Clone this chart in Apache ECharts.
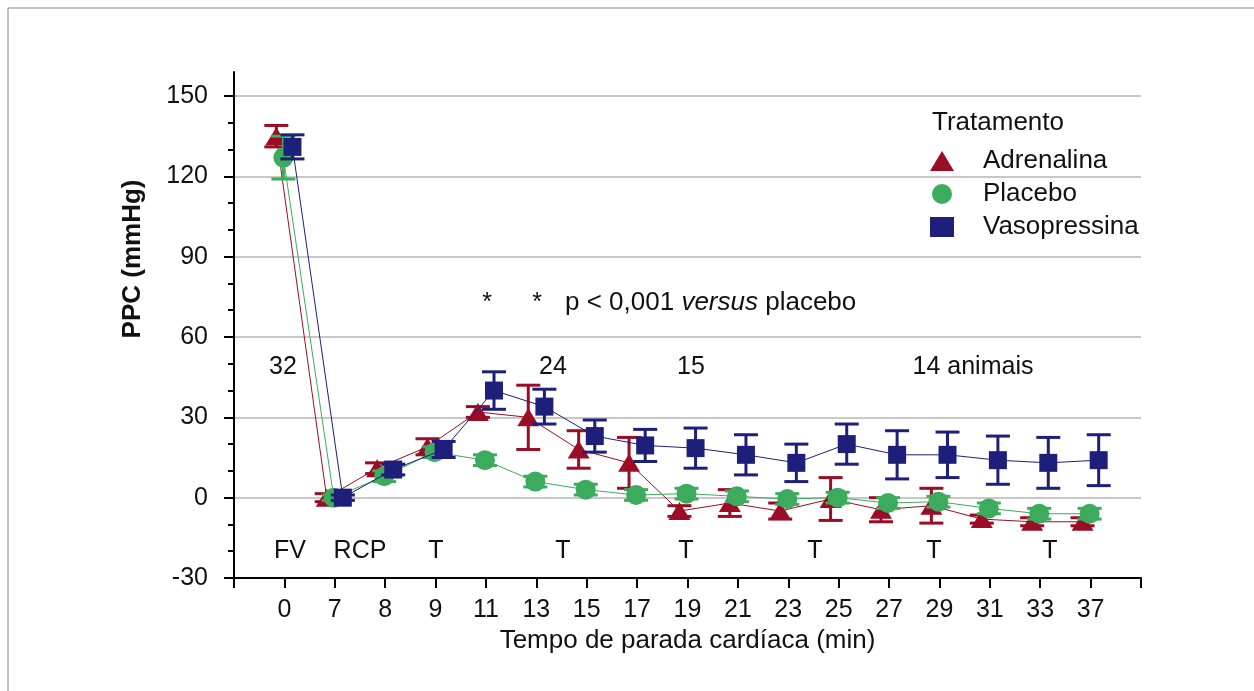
<!DOCTYPE html>
<html>
<head>
<meta charset="utf-8">
<script src="https://cdn.jsdelivr.net/npm/echarts@6/dist/echarts.min.js"></script>
<style>
  html, body { margin: 0; padding: 0; background: #fff; }
  #main { width: 1254px; height: 691px; }
</style>
</head>
<body>
<div id="main"></div>
<script>
// tempo de parada cardíaca (min)
const categories = ['0', '7', '8', '9', '11', '13', '15', '17', '19', '21', '23', '25', '27', '29', '31', '33', '37'];
const yTicks = [-30, 0, 30, 60, 90, 120, 150];

// PPC (mmHg), média e erro
const adrenalina = [135, 0, 11, 19, 32, 30, 18, 13, -5, -2, -5, -0.5, -4.5, -3, -8, -9, -9];
const adrenalinaErr = [4, 1.5, 2, 3, 2, 12, 7, 9.5, 2, 5, 3, 8, 4.5, 6.5, 1.5, 1.5, 1.5];
const placebo = [127, 0, 8, 17, 14, 6, 3, 1, 1.5, 0.5, -0.5, 0, -2, -1.5, -4, -6, -6];
const placeboErr = [8, 1, 2, 2, 2, 2, 2, 2, 2, 2, 2, 2, 2, 2, 2, 2, 2];
const vasopressina = [131, 0, 10.5, 18, 40, 34, 23, 19.5, 18.5, 16, 13, 20, 16, 16, 14, 13, 14];
const vasopressinaErr = [4.5, 1, 2, 3, 7, 6.5, 6, 6, 7.5, 7.5, 7, 7.5, 9, 8.5, 9, 9.5, 9.5];

const RED = '#9b0c26';
const GREEN = '#3dab5e';
const NAVY = '#1e1f7a';
const FONT = 'Liberation Sans, Arial, sans-serif';

let chart = echarts.init(document.getElementById('main'));

// pequeno deslocamento horizontal entre os grupos
const shift = { Adrenalina: -0.16, Placebo: -0.02, Vasopressina: 0.16 };

function points(name, vals) {
  return vals.map((v, i) => [i + shift[name], v]);
}
function bars(name, vals, errs) {
  return vals.map((v, i) => [i + shift[name], v - errs[i], v + errs[i]]);
}
function errorBar(color) {
  return function (params, api) {
    let x = api.value(0);
    let lo = api.coord([x, api.value(1)]);
    let hi = api.coord([x, api.value(2)]);
    let style = { stroke: color, lineWidth: 3 };
    let half = 12;
    return {
      type: 'group',
      children: [
        { type: 'line', shape: { x1: hi[0], y1: hi[1], x2: lo[0], y2: lo[1] }, style: style },
        { type: 'line', shape: { x1: hi[0] - half, y1: hi[1], x2: hi[0] + half, y2: hi[1] }, style: style },
        { type: 'line', shape: { x1: lo[0] - half, y1: lo[1], x2: lo[0] + half, y2: lo[1] }, style: style }
      ]
    };
  };
}

function group(name, vals, errs, color, symbol, size, z) {
  return [
    {
      name: name + ' erro',
      type: 'custom',
      renderItem: errorBar(color),
      data: bars(name, vals, errs),
      encode: { x: 0, y: [1, 2] },
      z: z,
      silent: true
    },
    {
      name: name,
      type: 'line',
      data: points(name, vals),
      symbol: symbol,
      symbolSize: size,
      symbolKeepAspect: symbol === 'rect',
      showAllSymbol: true,
      itemStyle: { color: color },
      lineStyle: { color: color, width: 1 },
      z: z + 1
    }
  ];
}

const txt = (text, x, y, extra) => ({
  type: 'text',
  x: x, y: y,
  style: Object.assign({ text: text, font: '25px ' + FONT, fill: '#111', align: 'center', verticalAlign: 'middle' }, extra || {})
});

let option = {
  animation: false,
  backgroundColor: '#fff',
  grid: [
    { left: 234, right: 113, top: 96, bottom: 113, outerBoundsMode: 'none' },
    { left: 234, right: 113, top: 72, bottom: 113, outerBoundsMode: 'none' }
  ],
  legend: {
    orient: 'vertical',
    left: 930,
    top: 148,
    padding: 0,
    itemWidth: 24,
    itemHeight: 20,
    itemGap: 7,
    data: [
      { name: 'Adrenalina', icon: 'triangle' },
      { name: 'Placebo', icon: 'circle' },
      { name: 'Vasopressina', icon: 'rect' }
    ],
    textStyle: { fontFamily: FONT, fontSize: 26, color: '#111', padding: [0, 0, 0, 24] }
  },
  xAxis: [
    {
      type: 'value',
      min: -1,
      max: 17,
      interval: 1,
      name: 'Tempo de parada cardíaca (min)',
      nameLocation: 'middle',
      nameGap: 48,
      nameTextStyle: { fontFamily: FONT, fontSize: 26, color: '#111' },
      axisLine: { onZero: false, lineStyle: { color: '#000', width: 2 } },
      axisTick: { show: true, length: 10, lineStyle: { color: '#000', width: 2 } },
      axisLabel: {
        margin: 20,
        fontFamily: FONT,
        fontSize: 25,
        color: '#111',
        formatter: (v) => (categories[v] !== undefined ? categories[v] : '')
      },
      splitLine: { show: false }
    },
    { gridIndex: 1, type: 'value', min: 0, max: 1, show: false }
  ],
  yAxis: [
    {
      type: 'value',
      min: yTicks[0],
      max: yTicks[yTicks.length - 1],
      interval: 30,
      axisLine: { show: true, onZero: false, lineStyle: { color: '#000', width: 2 } },
      axisTick: { show: true, length: 10, lineStyle: { color: '#000', width: 2 } },
      minorTick: { show: true, splitNumber: 3, length: 6, lineStyle: { color: '#000', width: 2 } },
      axisLabel: { margin: 26, fontFamily: FONT, fontSize: 25, color: '#111' },
      splitLine: { show: true, lineStyle: { color: '#c8c8c8', width: 2 } }
    },
    {
      gridIndex: 1,
      type: 'value',
      min: 0,
      max: 1,
      axisLine: { show: true, onZero: false, lineStyle: { color: '#000', width: 2 } },
      axisTick: { show: false },
      axisLabel: { show: false },
      splitLine: { show: false }
    }
  ],
  series: [].concat(
    group('Adrenalina', adrenalina, adrenalinaErr, RED, 'triangle', [22, 18], 2),
    group('Placebo', placebo, placeboErr, GREEN, 'circle', 20, 4),
    group('Vasopressina', vasopressina, vasopressinaErr, NAVY, 'rect', 18, 6)
  ),
  graphic: [
    // moldura
    { type: 'rect', shape: { x: 8, y: 8, width: 1400, height: 900 }, style: { fill: null, stroke: '#888', lineWidth: 1 }, silent: true },
    // título do eixo y
    {
      type: 'text', x: 133, y: 259, rotation: Math.PI / 2,
      style: { text: 'PPC (mmHg)', font: 'bold 26px ' + FONT, fill: '#111', align: 'center', verticalAlign: 'middle' }
    },
    txt('Tratamento', 932, 123, { align: 'left', font: '26px ' + FONT }),
    txt('*', 487, 303),
    txt('*', 537, 303),
    {
      type: 'text', x: 565, y: 303,
      style: {
        text: '{n|p < 0,001 }{i|versus}{n| placebo}',
        verticalAlign: 'middle',
        rich: {
          n: { font: '26px ' + FONT, fill: '#111' },
          i: { font: 'italic 26px ' + FONT, fill: '#111' }
        }
      }
    },
    txt('32', 283, 367),
    txt('24', 553, 367),
    txt('15', 691, 367),
    txt('14 animais', 973, 367),
    txt('FV', 290, 551),
    txt('RCP', 360, 551),
    txt('T', 436, 551),
    txt('T', 563, 551),
    txt('T', 686, 551),
    txt('T', 815, 551),
    txt('T', 934, 551),
    txt('T', 1050, 551)
  ]
};

chart.setOption(option);
</script>
</body>
</html>
